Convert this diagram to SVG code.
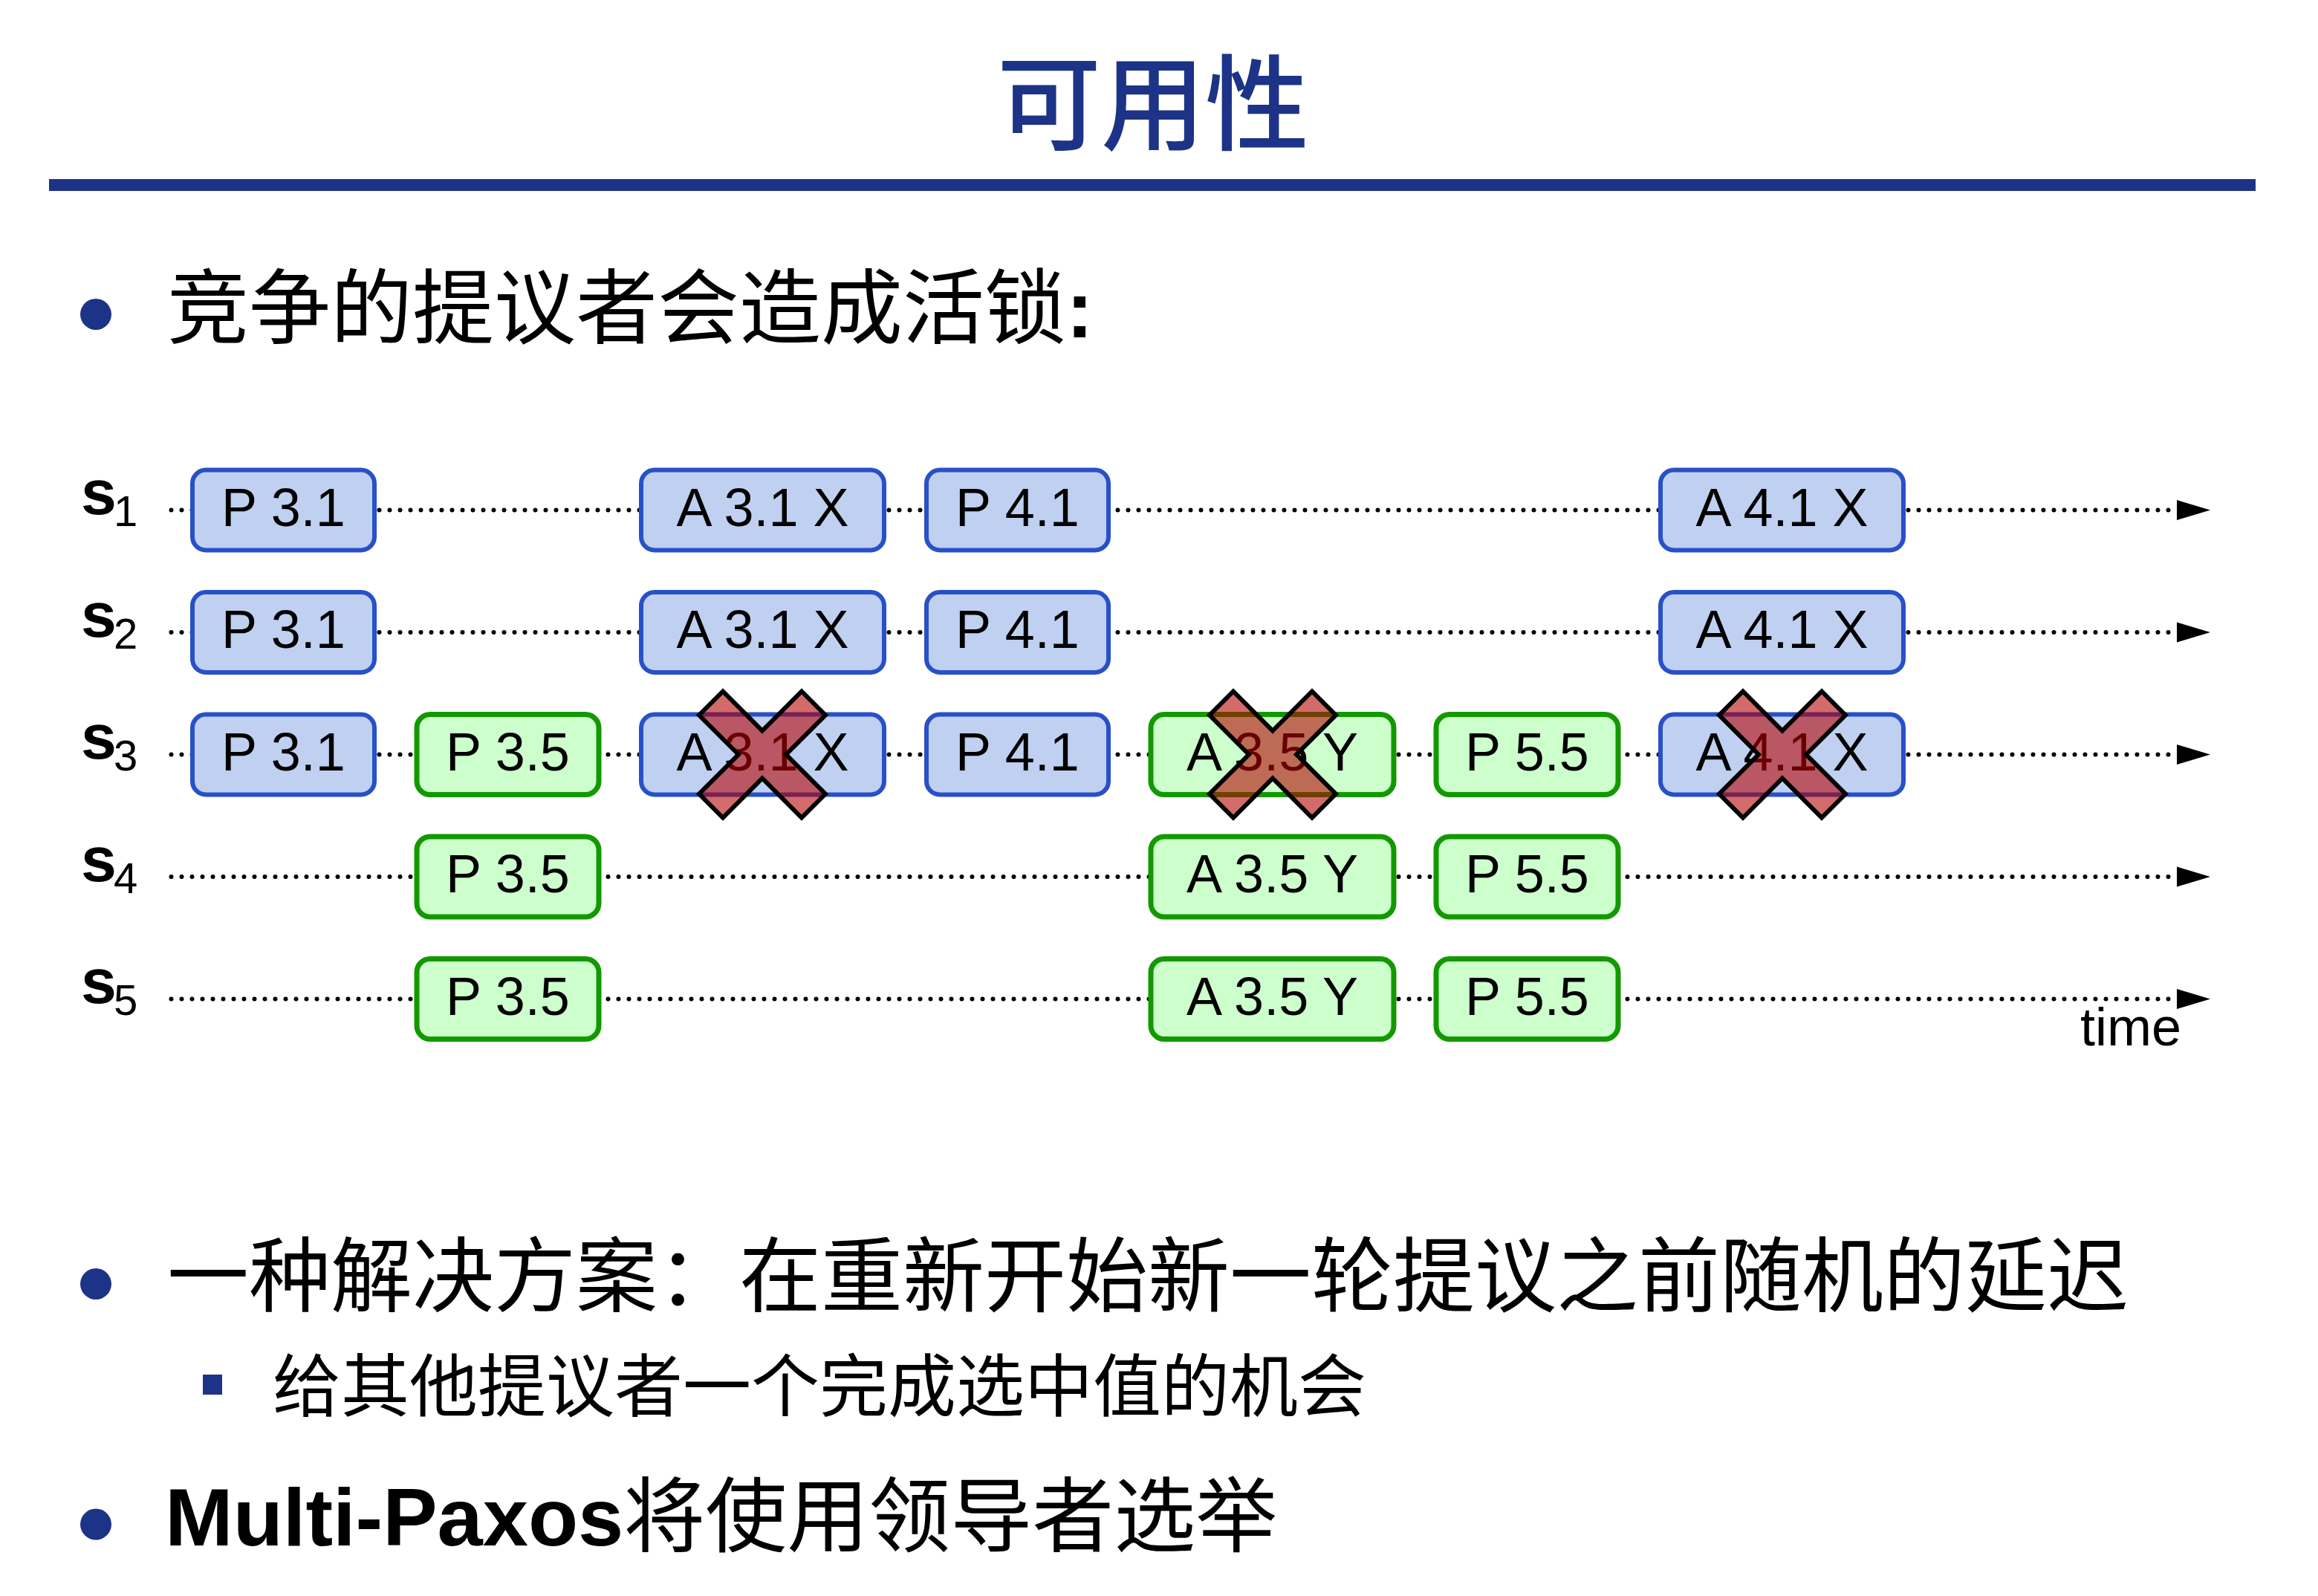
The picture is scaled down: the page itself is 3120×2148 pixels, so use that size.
<svg xmlns="http://www.w3.org/2000/svg" xmlns:xlink="http://www.w3.org/1999/xlink" width="3120" height="2148" viewBox="0 0 3120 2148">
<style>
.blue{fill:#c0d0f0;stroke:#2850c8;stroke-width:6}
.green{fill:#ccffcc;stroke:#139900;stroke-width:7}
.lbl{font-family:"Liberation Sans",Arial,sans-serif;font-size:72px;text-anchor:middle;fill:#000}
.srv{font-family:"Liberation Sans",Arial,sans-serif;fill:#000}
.cjk{font-family:"Liberation Sans","Noto Sans CJK SC",sans-serif;fill:#000}
.navy{fill:#1c3387}
.tl{fill:none;stroke:#000;stroke-width:6;stroke-linecap:round;stroke-dasharray:0 14}
.fail{fill:#b40000;fill-opacity:0.58;stroke:#000;stroke-width:6;stroke-linejoin:miter}
</style>
<defs>
<marker id="arrow" markerUnits="userSpaceOnUse" viewBox="0 0 46 28" markerWidth="46" markerHeight="28" refX="0" refY="13.5" orient="auto" overflow="visible">
<path d="M0,0 L45,13.5 L0,27 Z" fill="#000" stroke="none"/>
</marker>
<polygon id="xmark" points="0,-32 53,-85 85,-53 32,0 85,53 53,85 0,32 -53,85 -85,53 -32,0 -85,-53 -53,-85"/>
</defs>
<rect width="3120" height="2148" fill="#fff"/>

<g id="title">
<text x="1552" y="191" font-size="140" font-weight="500" text-anchor="middle" class="navy" font-family="'Noto Sans CJK SC',sans-serif">可用性</text>
<rect x="66" y="241" width="2970" height="16" class="navy"/>
</g>

<g id="bullet1">
<circle cx="129" cy="423" r="21" class="navy"/>
<text x="225" y="454" font-size="110" class="cjk">竞争的提议者会造成活锁<tspan font-weight="bold">:</tspan></text>
</g>

<g id="server-labels" class="srv">
<text x="109" y="692" font-size="86" font-weight="bold">s</text><text x="153" y="708" font-size="58">1</text>
<text x="109" y="856.5" font-size="86" font-weight="bold">s</text><text x="153" y="872.5" font-size="58">2</text>
<text x="109" y="1021" font-size="86" font-weight="bold">s</text><text x="153" y="1037" font-size="58">3</text>
<text x="109" y="1185.5" font-size="86" font-weight="bold">s</text><text x="153" y="1201.5" font-size="58">4</text>
<text x="109" y="1350" font-size="86" font-weight="bold">s</text><text x="153" y="1366" font-size="58">5</text>
</g>

<g id="connectors">
<line class="tl" x1="230.5" y1="686.5" x2="2930" y2="686.5" marker-end="url(#arrow)"/>
<line class="tl" x1="230.5" y1="851" x2="2930" y2="851" marker-end="url(#arrow)"/>
<line class="tl" x1="230.5" y1="1015.5" x2="2930" y2="1015.5" marker-end="url(#arrow)"/>
<line class="tl" x1="230.5" y1="1180" x2="2930" y2="1180" marker-end="url(#arrow)"/>
<line class="tl" x1="230.5" y1="1344.5" x2="2930" y2="1344.5" marker-end="url(#arrow)"/>
</g>

<g id="s1-p31" transform="translate(256,686.5)"><rect class="blue" x="3" y="-54" width="245" height="108" rx="18"/><text class="lbl" x="125.5" y="21">P 3.1</text></g>
<g id="s1-a31x" transform="translate(860,686.5)"><rect class="blue" x="3" y="-54" width="327" height="108" rx="18"/><text class="lbl" x="166.5" y="21">A 3.1 X</text></g>
<g id="s1-p41" transform="translate(1244,686.5)"><rect class="blue" x="3" y="-54" width="245" height="108" rx="18"/><text class="lbl" x="125.5" y="21">P 4.1</text></g>
<g id="s1-a41x" transform="translate(2232,686.5)"><rect class="blue" x="3" y="-54" width="327" height="108" rx="18"/><text class="lbl" x="166.5" y="21">A 4.1 X</text></g>

<g id="s2-p31" transform="translate(256,851)"><rect class="blue" x="3" y="-54" width="245" height="108" rx="18"/><text class="lbl" x="125.5" y="21">P 3.1</text></g>
<g id="s2-a31x" transform="translate(860,851)"><rect class="blue" x="3" y="-54" width="327" height="108" rx="18"/><text class="lbl" x="166.5" y="21">A 3.1 X</text></g>
<g id="s2-p41" transform="translate(1244,851)"><rect class="blue" x="3" y="-54" width="245" height="108" rx="18"/><text class="lbl" x="125.5" y="21">P 4.1</text></g>
<g id="s2-a41x" transform="translate(2232,851)"><rect class="blue" x="3" y="-54" width="327" height="108" rx="18"/><text class="lbl" x="166.5" y="21">A 4.1 X</text></g>

<g id="s3-p31" transform="translate(256,1015.5)"><rect class="blue" x="3" y="-54" width="245" height="108" rx="18"/><text class="lbl" x="125.5" y="21">P 3.1</text></g>
<g id="s3-p35" transform="translate(558,1015.5)"><rect class="green" x="3" y="-54" width="245" height="108" rx="18"/><text class="lbl" x="125.5" y="21">P 3.5</text></g>
<g id="s3-a31x" transform="translate(860,1015.5)"><rect class="blue" x="3" y="-54" width="327" height="108" rx="18"/><text class="lbl" x="166.5" y="21">A 3.1 X</text></g>
<g id="s3-p41" transform="translate(1244,1015.5)"><rect class="blue" x="3" y="-54" width="245" height="108" rx="18"/><text class="lbl" x="125.5" y="21">P 4.1</text></g>
<g id="s3-a35y" transform="translate(1546,1015.5)"><rect class="green" x="3" y="-54" width="327" height="108" rx="18"/><text class="lbl" x="166.5" y="21">A 3.5 Y</text></g>
<g id="s3-p55" transform="translate(1930,1015.5)"><rect class="green" x="3" y="-54" width="245" height="108" rx="18"/><text class="lbl" x="125.5" y="21">P 5.5</text></g>
<g id="s3-a41x" transform="translate(2232,1015.5)"><rect class="blue" x="3" y="-54" width="327" height="108" rx="18"/><text class="lbl" x="166.5" y="21">A 4.1 X</text></g>

<g id="s4-p35" transform="translate(558,1180)"><rect class="green" x="3" y="-54" width="245" height="108" rx="18"/><text class="lbl" x="125.5" y="21">P 3.5</text></g>
<g id="s4-a35y" transform="translate(1546,1180)"><rect class="green" x="3" y="-54" width="327" height="108" rx="18"/><text class="lbl" x="166.5" y="21">A 3.5 Y</text></g>
<g id="s4-p55" transform="translate(1930,1180)"><rect class="green" x="3" y="-54" width="245" height="108" rx="18"/><text class="lbl" x="125.5" y="21">P 5.5</text></g>

<g id="s5-p35" transform="translate(558,1344.5)"><rect class="green" x="3" y="-54" width="245" height="108" rx="18"/><text class="lbl" x="125.5" y="21">P 3.5</text></g>
<g id="s5-a35y" transform="translate(1546,1344.5)"><rect class="green" x="3" y="-54" width="327" height="108" rx="18"/><text class="lbl" x="166.5" y="21">A 3.5 Y</text></g>
<g id="s5-p55" transform="translate(1930,1344.5)"><rect class="green" x="3" y="-54" width="245" height="108" rx="18"/><text class="lbl" x="125.5" y="21">P 5.5</text></g>

<g id="failures">
<use xlink:href="#xmark" href="#xmark" class="fail" x="1026" y="1015.5"/>
<use xlink:href="#xmark" href="#xmark" class="fail" x="1713" y="1015.5"/>
<use xlink:href="#xmark" href="#xmark" class="fail" x="2399" y="1015.5"/>
</g>

<g id="time-label">
<text class="srv" x="2936" y="1407" font-size="72" text-anchor="end">time</text>
</g>

<g id="bullet2">
<circle cx="129" cy="1728" r="21" class="navy"/>
<text x="225" y="1757" font-size="110" class="cjk">一种解决方案：在重新开始新一轮提议之前随机的延迟</text>
</g>

<g id="bullet2-sub">
<rect x="273" y="1850" width="26" height="27" class="navy"/>
<text x="367" y="1899" font-size="92" class="cjk">给其他提议者一个完成选中值的机会</text>
</g>

<g id="bullet3">
<circle cx="129" cy="2051.5" r="21" class="navy"/>
<text x="222" y="2080" font-size="110" class="cjk"><tspan font-weight="bold">Multi-Paxos</tspan>将使用领导者选举</text>
</g>
</svg>
